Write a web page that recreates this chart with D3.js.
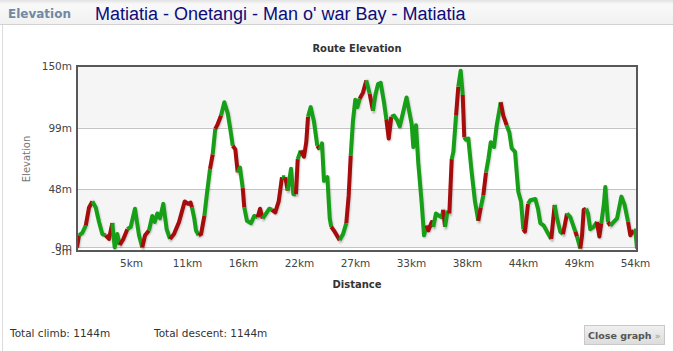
<!DOCTYPE html>
<html><head><meta charset="utf-8">
<script src="https://cdn.jsdelivr.net/npm/d3@7"></script>
<style>
html,body{margin:0;padding:0;background:#fff;}
svg{display:block;}
</style></head>
<body>
<div id="chart"></div>
<script>
const headerLabel = "Elevation";
const pageTitle = "Matiatia - Onetangi - Man o' war Bay - Matiatia";
const chartTitle = "Route Elevation";
const xAxisTitle = "Distance";
const yAxisTitle = "Elevation";
const xMaxKm = 54.4;
const xTickLabels = ["5km","11km","16km","22km","27km","33km","38km","44km","49km","54km"];
const yTicks = [150, 99, 48, 0, -3];
const yTickLabels = ["150m","99m","48m","0m","-3m"];
const bandRanges = [[99,150],[0,48]];
const totalClimb = "Total climb: 1144m";
const totalDescent = "Total descent: 1144m";
const closeLabel = "Close graph";

const distKm = [0,0.19,0.51,0.85,1.17,1.49,1.82,2.14,2.46,2.79,3.11,3.43,3.66,3.91,4.15,4.50,4.89,5.22,5.63,6.02,
6.34,6.61,6.99,7.31,7.55,7.80,8.06,8.38,8.71,9.03,9.42,9.91,10.46,10.78,11.03,11.17,11.39,11.56,11.82,12.05,
12.37,12.60,12.92,13.18,13.43,13.67,13.99,14.31,14.64,14.89,15.13,15.38,15.61,15.83,16.10,16.25,16.51,16.90,17.22,17.55,
17.78,18.04,18.36,18.68,18.94,19.26,19.59,19.91,20.23,20.47,20.79,21.01,21.27,21.44,21.73,22.05,22.27,22.44,22.70,23.02,
23.34,23.58,23.80,23.99,24.32,24.55,24.70,25.03,25.52,25.84,26.16,26.39,26.59,26.81,27.03,27.23,27.46,27.78,28.10,28.43,
28.75,28.98,29.24,29.50,29.82,30.05,30.28,30.53,30.79,31.11,31.35,31.77,32.01,32.51,32.67,32.93,33.15,33.48,33.71,33.97,
34.13,34.46,34.61,34.87,35.19,35.43,35.58,35.75,35.97,36.17,36.40,36.56,36.82,37.04,37.27,37.47,37.62,37.79,38.01,38.34,
38.66,38.98,39.22,39.47,39.73,39.96,40.19,40.51,40.77,41.16,41.41,41.74,42.00,42.23,42.55,42.87,43.13,43.36,43.52,43.81,
44.04,44.52,44.78,45.01,45.34,45.66,46.07,46.40,46.63,46.95,47.21,47.60,47.92,48.41,48.57,48.89,49.06,49.22,49.45,49.64,
49.86,50.19,50.51,50.74,50.93,51.17,51.32,51.58,51.81,52.14,52.46,52.88,53.20,53.53,53.75,54.08,54.24,54.40];

const elevM = [0,10,12,18,33,38,33,21,11,10,7,20,0,11,2,7,15,17,32,10,
0,10,14,26,21,28,24,36,15,7,11,21,38,36,37,33,24,14,10,11,
26,43,65,77,98,102,109,120,111,98,84,81,62,66,49,33,22,20,26,25,
32,24,28,32,31,29,38,58,58,47,65,44,44,73,80,75,87,108,116,104,
84,81,86,55,58,24,17,13,6,11,20,43,76,105,122,116,123,128,138,127,
113,126,135,136,120,106,90,108,109,105,100,115,124,102,83,101,70,37,10,18,
14,21,17,28,26,25,31,17,29,28,73,79,109,133,146,126,91,89,90,62,
38,22,33,43,62,73,87,83,101,120,109,101,95,82,79,46,38,15,13,36,
39,40,32,20,18,13,7,35,24,13,11,28,25,13,9,-1,10,31,32,28,
15,17,21,9,20,35,50,21,18,21,24,42,35,21,10,14,14,-1];

// 1 = steep (red) segment ending at this point, 0 = green
const steep = [0,1,0,0,1,1,0,0,0,0,1,1,0,0,0,1,1,0,0,0,
0,1,1,0,0,0,0,0,0,0,1,1,1,1,1,1,0,0,0,1,
1,0,0,1,0,1,1,0,0,0,0,1,1,0,0,1,0,0,0,0,
1,1,0,0,0,1,1,1,0,1,0,0,0,1,0,1,1,1,0,0,
0,1,0,0,0,0,0,1,1,0,0,1,1,0,0,0,0,1,1,0,
1,0,0,0,0,0,1,1,0,0,0,0,0,0,0,0,0,0,0,0,
1,1,1,0,0,0,0,1,0,0,1,0,0,1,0,0,1,0,0,0,
0,0,1,0,1,0,0,0,0,0,1,1,0,0,0,0,0,0,1,1,
0,0,0,0,0,0,0,1,0,0,0,1,0,0,1,0,1,1,1,0,
0,0,0,1,1,0,0,0,1,0,0,0,0,0,1,1,0,0];

const W = 673, H = 351;
const P = {left: 77, right: 637, top: 66, bottom: 251};
const svg = d3.select("#chart").append("svg").attr("width", W).attr("height", H);
const defs = svg.append("defs");

// header
const hg = defs.append("linearGradient").attr("id","hdr").attr("x1",0).attr("y1",0).attr("x2",0).attr("y2",1);
hg.append("stop").attr("offset","0%").attr("stop-color","#e2e2e2");
hg.append("stop").attr("offset","18%").attr("stop-color","#f9f9f9");
hg.append("stop").attr("offset","100%").attr("stop-color","#f1f1f1");
svg.append("rect").attr("x",0).attr("y",0).attr("width",W).attr("height",24).attr("fill","url(#hdr)");
svg.append("line").attr("x1",0).attr("x2",W).attr("y1",24.5).attr("y2",24.5).attr("stroke","#d2d2d2");
svg.append("line").attr("x1",2.5).attr("x2",2.5).attr("y1",25).attr("y2",H).attr("stroke","#dcdcdc");
svg.append("text").attr("x",8).attr("y",18).text(headerLabel)
  .attr("font-family","DejaVu Sans, Verdana, sans-serif").attr("font-weight","bold").attr("font-size",12).attr("fill","#7189a3");
svg.append("text").attr("x",95).attr("y",20).text(pageTitle)
  .attr("font-family","Liberation Sans, Arial, sans-serif").attr("font-size",18).attr("fill","#0c0c7a");

const x = d3.scaleLinear().domain([0, xMaxKm]).range([P.left, P.right]);
const y = d3.scaleLinear().domain([yTicks[yTicks.length-1], yTicks[0]]).range([P.bottom, P.top]);

// bands
svg.append("g").selectAll("rect").data(bandRanges).join("rect")
  .attr("x", P.left).attr("width", P.right - P.left)
  .attr("y", d => y(d[1])).attr("height", d => y(d[0]) - y(d[1]))
  .attr("fill", "#f5f5f5");

// grid
svg.append("g").selectAll("line").data(yTicks).join("line")
  .attr("x1", P.left).attr("x2", P.right)
  .attr("y1", d => Math.round(y(d)) + 0.5).attr("y2", d => Math.round(y(d)) + 0.5)
  .attr("stroke", "#c4c4c4");

// axes
const font = "DejaVu Sans, Verdana, sans-serif";
const yAxis = svg.append("g").attr("transform", `translate(${P.left},0)`)
  .call(d3.axisLeft(y).tickValues(yTicks).tickFormat((d,i) => yTickLabels[i]).tickSize(0).tickPadding(5));
yAxis.select(".domain").remove();
yAxis.selectAll("text").attr("font-family", font).attr("font-size", 10.5).attr("fill", "#444");

const xTickVals = xTickLabels.map((_, i) => xMaxKm * (i + 1) / xTickLabels.length);
const xAxis = svg.append("g").attr("transform", `translate(0,${P.bottom})`)
  .call(d3.axisBottom(x).tickValues(xTickVals).tickFormat((d,i) => xTickLabels[i]).tickSize(0).tickPadding(9));
xAxis.select(".domain").remove();
xAxis.selectAll("text").attr("font-family", font).attr("font-size", 10.5).attr("fill", "#444").attr("dx", -2);

// titles
svg.append("text").attr("x", (P.left+P.right)/2).attr("y", 52).attr("text-anchor","middle").text(chartTitle)
  .attr("font-family", font).attr("font-weight","bold").attr("font-size",10).attr("fill","#333");
svg.append("text").attr("x", (P.left+P.right)/2).attr("y", 288).attr("text-anchor","middle").text(xAxisTitle)
  .attr("font-family", font).attr("font-weight","bold").attr("font-size",10).attr("fill","#333");
svg.append("text").attr("transform", "translate(30,159) rotate(-90)").attr("text-anchor","middle").text(yAxisTitle)
  .attr("font-family", font).attr("font-size",10).attr("fill","#777");

// line
defs.append("clipPath").attr("id","clip").append("rect")
  .attr("x", P.left).attr("y", P.top - 4).attr("width", P.right - P.left).attr("height", P.bottom - P.top + 4);
const pts = distKm.map((d, i) => ({d, e: elevM[i], s: steep[i]}));
const runs = [];
for (let i = 1; i < pts.length; i++) {
  const s = pts[i].s;
  if (runs.length && runs[runs.length-1].s === s) runs[runs.length-1].pts.push(pts[i]);
  else runs.push({s, pts: [pts[i-1], pts[i]]});
}
const line = d3.line().x(p => x(p.d)).y(p => y(p.e));
const gl = svg.append("g").attr("clip-path","url(#clip)");
const sh = gl.append("g").attr("transform","translate(1,1)");
[[6,0.05],[4,0.08],[2,0.12]].forEach(([w,o]) => {
  sh.append("path").attr("d", line(pts)).attr("fill","none").attr("stroke","#000")
    .attr("stroke-opacity", o).attr("stroke-width", w).attr("stroke-linejoin","round");
});
gl.selectAll("path.seg").data(runs).join("path").attr("class","seg")
  .attr("d", r => line(r.pts)).attr("fill","none")
  .attr("stroke", r => r.s ? "#a60c0c" : "#17a017")
  .attr("stroke-width", 4).attr("stroke-linejoin","round").attr("stroke-linecap","butt");

// plot border
svg.append("rect").attr("x", P.left).attr("y", P.top).attr("width", P.right - P.left).attr("height", P.bottom - P.top)
  .attr("fill","none").attr("stroke","#585858").attr("stroke-width",2);

// footer
svg.append("text").attr("x",10).attr("y",337).text(totalClimb)
  .attr("font-family", font).attr("font-size",10.5).attr("fill","#333");
svg.append("text").attr("x",154).attr("y",337).text(totalDescent)
  .attr("font-family", font).attr("font-size",10.5).attr("fill","#333");
const bg = defs.append("linearGradient").attr("id","btn").attr("x1",0).attr("y1",0).attr("x2",0).attr("y2",1);
bg.append("stop").attr("offset","0%").attr("stop-color","#f0f0f0");
bg.append("stop").attr("offset","100%").attr("stop-color","#dcdcdc");
svg.append("rect").attr("x",584.5).attr("y",325.5).attr("width",80).attr("height",19)
  .attr("fill","url(#btn)").attr("stroke","#c9c9c9");
const bt = svg.append("text").attr("x",588).attr("y",339)
  .attr("font-family", font).attr("font-weight","bold").attr("font-size",9.5).attr("fill","#555");
bt.append("tspan").text(closeLabel);
bt.append("tspan").text(" »").attr("fill","#999").attr("font-weight","normal");
</script>
</body></html>
